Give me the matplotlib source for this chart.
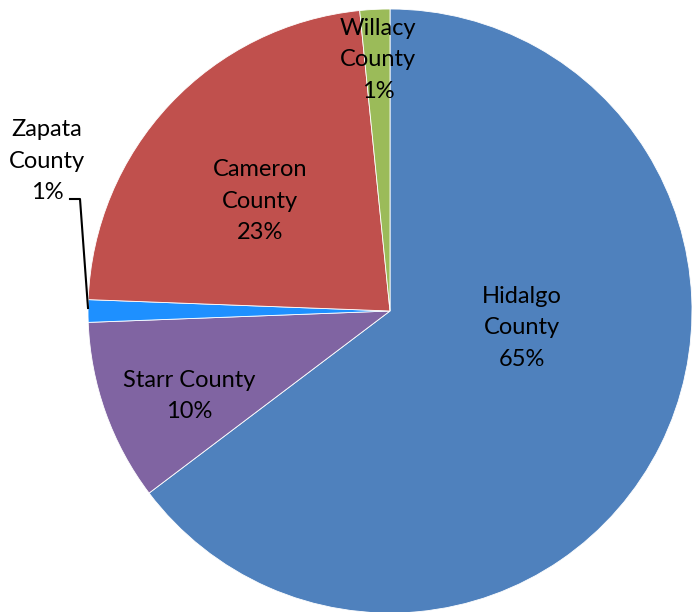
import matplotlib.pyplot as plt

# County shares (percent), clockwise from 12 o'clock
counties = ["Hidalgo County", "Starr County", "Zapata County", "Cameron County", "Willacy County"]
shares = [64.7, 9.7, 1.2, 22.8, 1.6]
labels = ["Hidalgo\nCounty\n65%", "Starr County\n10%", "Zapata\nCounty\n1%",
          "Cameron\nCounty\n23%", "Willacy\nCounty\n1%"]
colors = ["#4F81BD", "#8064A2", "#1E90FF", "#C0504D", "#9BBB59"]

plt.rcParams["font.family"] = ["Lato", "DejaVu Sans"]

fig = plt.figure(figsize=(6.92, 6.12), dpi=100)
W, H = 692, 612
cx, cy, r = 390, 311, 302
ax = fig.add_axes([(cx - r) / W, (H - cy - r) / H, 2 * r / W, 2 * r / H])

wedges, _ = ax.pie(shares, colors=colors, startangle=90, counterclock=False,
                   radius=1.0, wedgeprops=dict(linewidth=0.6, edgecolor="white"))
ax.set_xlim(-1, 1)
ax.set_ylim(-1, 1)
ax.set_aspect("equal")
ax.axis("off")


def to_data(px, py):
    return (px - cx) / r, (cy - py) / r


txt = dict(ha="center", va="center", fontsize=17, linespacing=1.62, color="black")

# in-slice labels
ax.text(*to_data(522, 328), labels[0], **txt)
ax.text(*to_data(189, 396), labels[1], **txt)
ax.text(*to_data(260, 201), labels[3], **txt)
ax.text(*to_data(378, 60), labels[4], **txt)

# Zapata label sits outside with a leader line
ax.text(*to_data(47, 161), labels[2], clip_on=False, **txt)
lx = [to_data(70, 199)[0], to_data(80, 199)[0], to_data(88, 308)[0]]
ly = [to_data(70, 199)[1], to_data(80, 199)[1], to_data(88, 308)[1]]
ax.plot(lx, ly, color="black", linewidth=1.5, clip_on=False)

fig.savefig("out.png", dpi=100)
